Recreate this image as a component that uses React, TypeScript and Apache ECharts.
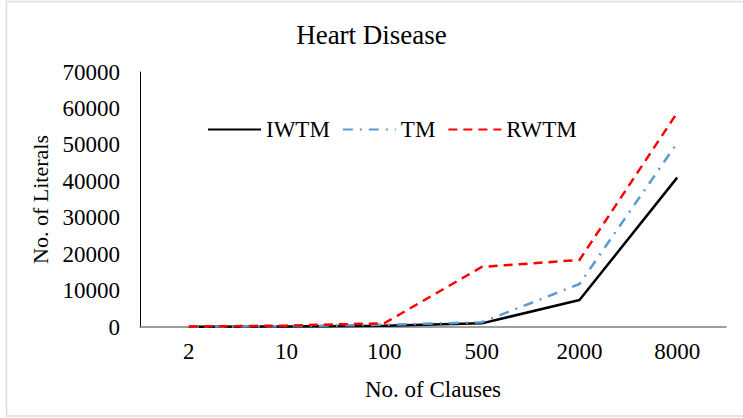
import React, { useEffect, useRef } from "react";
import * as echarts from "echarts";

const categories = ["2", "10", "100", "500", "2000", "8000"];
const iwtm = [60, 150, 350, 1000, 7400, 41000];
const tm = [80, 250, 600, 1300, 11800, 50500];
const rwtm = [100, 400, 1000, 16500, 18400, 58800];

const FONT = "'Liberation Serif', 'Times New Roman', serif";

export default function App() {
  const ref = useRef<HTMLDivElement>(null);
  useEffect(() => {
    document.body.style.margin = "0";
    const chart = echarts.init(ref.current!, null, { renderer: "svg" });
    chart.setOption({
      animation: false,
      backgroundColor: "#fff",
      title: {
        text: "Heart Disease",
        left: "center",
        top: 16,
        textStyle: { fontFamily: FONT, fontSize: 27, fontWeight: "normal", color: "#000" },
      },
      legend: {
        top: 118,
        left: 207,
        padding: 0,
        itemWidth: 53,
        itemHeight: 14,
        itemGap: 12,
        itemStyle: { opacity: 0 },
        textStyle: { fontFamily: FONT, fontSize: 23, color: "#000" },
        data: ["IWTM", "TM", "RWTM"],
      },
      grid: { left: 140, top: 72, right: 17, bottom: 91 },
      xAxis: {
        type: "category",
        data: categories,
        name: "No. of Clauses",
        nameLocation: "middle",
        nameGap: 51,
        nameTextStyle: { fontFamily: FONT, fontSize: 23, color: "#000" },
        axisLine: { lineStyle: { color: "#7f7f7f", width: 1.5 } },
        axisTick: { show: false },
        axisLabel: { fontFamily: FONT, fontSize: 23, color: "#000", margin: 13 },
      },
      yAxis: {
        type: "value",
        min: 0,
        max: 70000,
        interval: 10000,
        name: "No. of Literals",
        nameLocation: "middle",
        nameGap: 87,
        nameTextStyle: { fontFamily: FONT, fontSize: 22, color: "#000" },
        axisLine: { show: true, lineStyle: { color: "#000", width: 1 } },
        axisTick: { show: false },
        splitLine: { show: false },
        axisLabel: {
          fontFamily: FONT,
          fontSize: 23,
          color: "#000",
          margin: 20,
          formatter: (v: number) => String(v),
        },
      },
      series: [
        {
          name: "IWTM",
          type: "line",
          data: iwtm,
          symbol: "none",
          color: "#000",
          lineStyle: { color: "#000", width: 2.5 },
        },
        {
          name: "TM",
          type: "line",
          data: tm,
          symbol: "none",
          color: "#5b9bd5",
          lineStyle: { color: "#5b9bd5", width: 2.5, type: [10, 7, 2, 7] },
        },
        {
          name: "RWTM",
          type: "line",
          data: rwtm,
          symbol: "none",
          color: "#ff0000",
          lineStyle: { color: "#ff0000", width: 2.5, type: [9, 6] },
        },
      ],
      graphic: [
        {
          type: "rect",
          shape: { x: 6.5, y: 1.5, width: 740, height: 414.5 },
          style: { fill: "none", stroke: "#dcdcdc", lineWidth: 1.5 },
          silent: true,
        },
      ],
    });
    return () => chart.dispose();
  }, []);
  return <div ref={ref} style={{ width: 743, height: 418 }} />;
}
